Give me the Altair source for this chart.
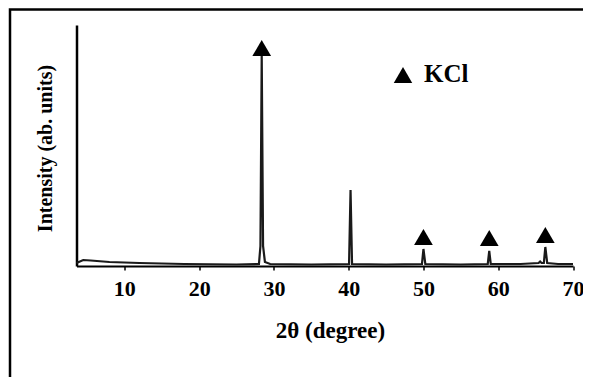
import altair as alt
import pandas as pd

# XRD pattern (2θ in degrees, intensity in arbitrary units)
two_theta = [3.6, 4.5, 5.5, 8.0, 12.0, 18.0, 25.0, 28.0, 28.2, 28.37, 28.55, 28.8, 29.5,
             35.0, 40.05, 40.25, 40.45, 45.0, 49.8, 50.0, 50.25, 55.0, 58.6, 58.8, 59.0,
             63.0, 65.4, 65.6, 65.8, 66.1, 66.3, 66.55, 68.0, 70.0]
intensity = [3, 6, 5.5, 4, 3, 2, 1.5, 2, 20, 211, 20, 4, 2,
             1.5, 2, 76, 2, 1.5, 2, 17, 2, 1.5, 2, 15, 2,
             2, 3, 4.5, 3, 3, 19, 3, 2, 2]

# KCl peak markers
kcl_x = [28.37, 50.0, 58.8, 66.3]
kcl_y = [218, 29, 28, 31]

x_ticks = [10, 20, 30, 40, 50, 60, 70]
legend_label = ["KCl"]

FONT = "Liberation Serif, Times New Roman, serif"
W, H = 496.5, 241

spec = pd.DataFrame({"t": two_theta, "i": intensity})
marks = pd.DataFrame({"t": kcl_x, "i": kcl_y})

xs = alt.Scale(domain=[3.6, 70], nice=False, zero=False)
ys = alt.Scale(domain=[0, 241], nice=False, zero=False)

line = alt.Chart(spec).mark_line(color="#1a1a1a", strokeWidth=2.2).encode(
    x=alt.X("t:Q", scale=xs,
            axis=alt.Axis(title="2θ (degree)", values=x_ticks, format="d",
                          grid=False, domainColor="black", domainWidth=2,
                          tickColor="black", tickWidth=1.5, tickSize=4,
                          labelFont=FONT, labelFontWeight="bold", labelFontSize=22,
                          labelColor="black", labelPadding=8, labelFlush=False,
                          titleFont=FONT, titleFontWeight="bold", titleFontSize=23,
                          titleColor="black", titleX=253.5, titleY=64,
                          titleBaseline="middle", titleAlign="center")),
    y=alt.Y("i:Q", scale=ys,
            axis=alt.Axis(title="Intensity (ab. units)", labels=False, ticks=False,
                          grid=False, domainColor="black", domainWidth=2.5,
                          titleFont=FONT, titleFontWeight="bold", titleFontSize=20,
                          titleColor="black", titleX=-31.5, titleY=123,
                          titleAngle=-90, titleBaseline="middle", titleAlign="center")),
)

tri = alt.Chart(marks).mark_point(shape="triangle-up", filled=True, size=350,
                                  color="black", opacity=1).encode(
    x=alt.X("t:Q", scale=xs), y=alt.Y("i:Q", scale=ys))

one = pd.DataFrame({"label": legend_label})
leg_tri = alt.Chart(one).mark_point(shape="triangle-up", filled=True, size=340,
                                    color="black", opacity=1).encode(
    x=alt.value(326.5), y=alt.value(50))
leg_txt = alt.Chart(one).mark_text(font=FONT, fontWeight="bold", fontSize=25,
                                   align="left", baseline="middle", color="black").encode(
    x=alt.value(347.5), y=alt.value(49), text="label:N")

frame = alt.Chart(one).mark_rect(fillOpacity=0, stroke="black", strokeWidth=2.5).encode(
    x=alt.value(-66.5), x2=alt.value(530), y=alt.value(-15.5), y2=alt.value(380))

chart = alt.layer(frame, line, tri, leg_tri, leg_txt).properties(
    width=W, height=H,
    autosize=alt.AutoSizeParams(type="none"),
    padding={"left": 68.5, "top": 17, "right": 10, "bottom": 111},
    background="white",
).configure_view(strokeWidth=0)

chart.save("out.html", embed_options={"renderer": "svg", "actions": False})
